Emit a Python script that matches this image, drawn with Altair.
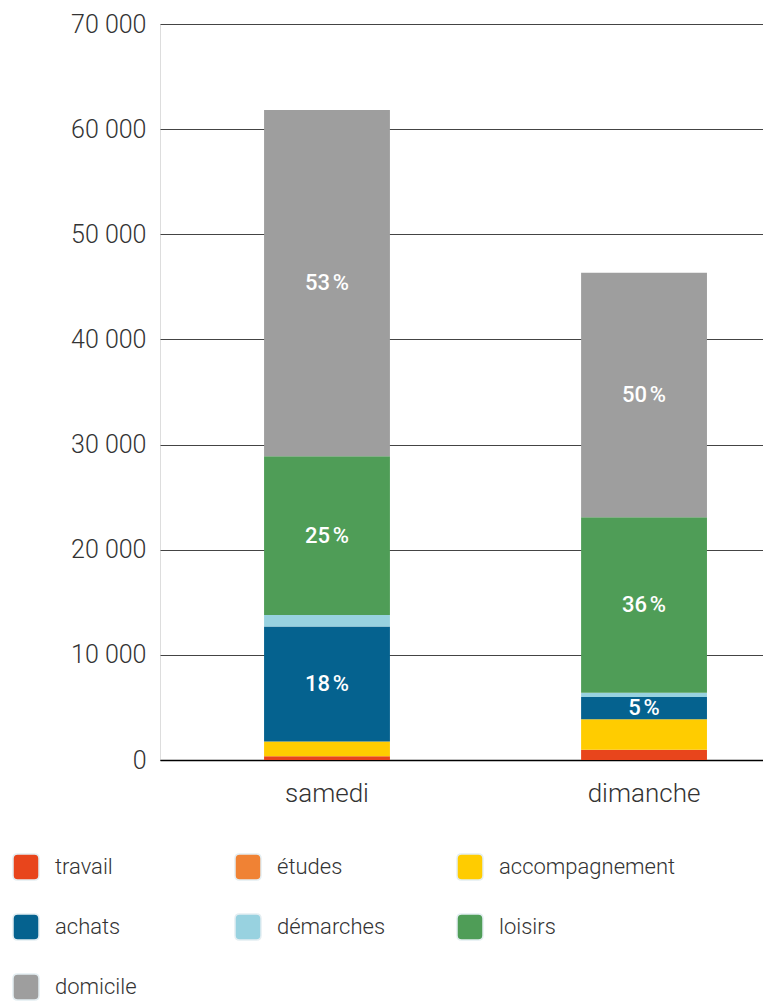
import altair as alt
import pandas as pd

days = ["samedi", "dimanche"]
motifs = ["travail", "études", "accompagnement", "achats", "démarches", "loisirs", "domicile"]
colors = ["#E8451C", "#F08234", "#FFCC00", "#05628F", "#98D2E0", "#4F9D57", "#9E9E9E"]
samedi = [360, 0, 1400, 10940, 1080, 15110, 32930]
dimanche = [970, 0, 2910, 2100, 420, 16680, 23250]
pct_samedi = ["", "", "", "18\u202f%", "", "25\u202f%", "53\u202f%"]
pct_dimanche = ["", "", "", "5\u202f%", "", "36\u202f%", "50\u202f%"]
y_ticks = [0, 10000, 20000, 30000, 40000, 50000, 60000, 70000]

rows = []
for day, vals, pcts in ((days[0], samedi, pct_samedi), (days[1], dimanche, pct_dimanche)):
    for i, (m, v, p) in enumerate(zip(motifs, vals, pcts)):
        rows.append(dict(day=day, motif=m, value=v, pct=p, ordre=i))
df = pd.DataFrame(rows)

FONT = "Roboto"
rounded = "M -0.65,-1 H 0.65 Q 1,-1 1,-0.65 V 0.65 Q 1,1 0.65,1 H -0.65 Q -1,1 -1,0.65 V -0.65 Q -1,-1 -0.65,-1 Z"

x = alt.X(
    "day:N", sort=days, title=None,
    scale=alt.Scale(paddingInner=0.603, paddingOuter=0.2525, align=0.65),
    axis=alt.Axis(labelAngle=0, labelFontSize=26, labelColor="#333333", labelPadding=20,
                  ticks=False, domainColor="#000000", domainWidth=1.3, grid=False,
                  labelFont=FONT, labelFontWeight=300),
)
y = alt.Y(
    "value:Q", stack="zero",
    scale=alt.Scale(domain=[0, 70000], nice=False),
    axis=alt.Axis(values=y_ticks, title=None,
                  labelExpr="replace(format(datum.value, ','), ',', ' ')",
                  labelFontSize=25, labelColor="#333333", labelPadding=14,
                  labelFont=FONT, labelFontWeight=300,
                  ticks=False, domain=False, gridColor="#444444", gridWidth=1),
)
color = alt.Color(
    "motif:N", sort=motifs,
    scale=alt.Scale(domain=motifs, range=colors),
    legend=alt.Legend(
        title=None, orient="none", legendX=-148, legendY=829, columns=3,
        direction="horizontal",
        symbolType=rounded, symbolSize=676, symbolStrokeColor="#e4eef2",
        symbolStrokeWidth=1.5, symbolOpacity=1,
        labelFont=FONT, labelFontSize=22, labelColor="#333333", labelFontWeight=300,
        labelOffset=15, rowPadding=28, columnPadding=0, gridAlign="all", padding=0,
        labelLimit=400,
    ),
)

bars = alt.Chart(df).mark_bar().encode(x=x, y=y, color=color, order=alt.Order("ordre:Q"))

text = (
    alt.Chart(df)
    .transform_stack(stack="value", groupby=["day"], sort=[alt.SortField("ordre")], as_=["y0", "y1"])
    .transform_calculate(mid="(datum.y0 + datum.y1) / 2")
    .mark_text(color="white", fontSize=22, font=FONT, fontWeight=500)
    .encode(x=alt.X("day:N", sort=days), y=alt.Y("mid:Q"), text="pct:N")
)

chart = (
    alt.layer(bars, text)
    .properties(width=603, height=736, autosize="none",
                padding={"left": 152, "top": 16, "right": 0, "bottom": 243})
    .configure_view(stroke=None)
    .configure(font=FONT)
)

chart.save("out.html", embed_options={"renderer": "svg", "actions": False})
